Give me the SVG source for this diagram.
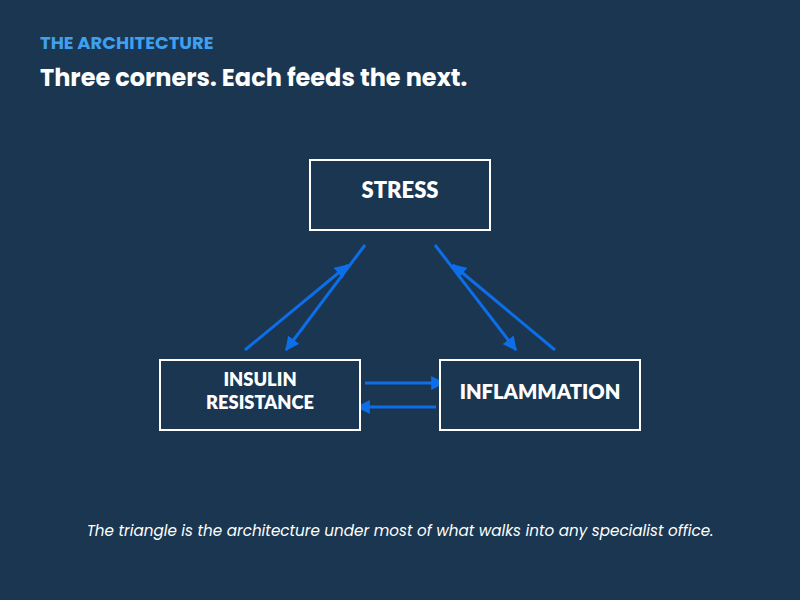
<svg xmlns="http://www.w3.org/2000/svg" width="800" height="600" viewBox="0 0 800 600">
<defs>
<style>
.box{fill:#1a3650;stroke:#ffffff;stroke-width:2}
.lbl{font-family:Lato,"Open Sans",sans-serif;font-weight:800;fill:#ffffff;text-anchor:middle}
.con{stroke:#0d6ee8;stroke-width:3;fill:none;marker-end:url(#ah)}
</style>
<marker id="ah" markerUnits="userSpaceOnUse" markerWidth="14" markerHeight="14" viewBox="0 0 12 12" refX="11" refY="6" orient="auto">
<path d="M0,0 L12,6 L0,12 z" fill="#0d6ee8"/>
</marker>
</defs>
<rect width="800" height="600" fill="#1a3650"/>
<text x="40" y="49" font-family="Poppins,'Open Sans',sans-serif" font-weight="700" font-size="18" fill="#3fa0f0">THE ARCHITECTURE</text>
<text x="40" y="86" font-family="Poppins,'Open Sans',sans-serif" font-weight="700" font-size="24" fill="#ffffff">Three corners. Each feeds the next.</text>
<g id="connectors">
<line class="con" x1="245" y1="350" x2="348" y2="265"/>
<line class="con" x1="365" y1="245" x2="286" y2="350"/>
<line class="con" x1="435" y1="245" x2="516" y2="350"/>
<line class="con" x1="555" y1="350" x2="453" y2="265"/>
<line class="con" x1="365" y1="383" x2="444" y2="383"/>
<line class="con" x1="436" y1="407" x2="357" y2="407"/>
</g>
<g id="stress">
<rect class="box" x="310" y="160" width="180" height="70"/>
<text class="lbl" x="400" y="198" font-size="22">STRESS</text>
</g>
<g id="insulin">
<rect class="box" x="160" y="360" width="200" height="70"/>
<text class="lbl" x="260" y="386" font-size="18.3">INSULIN</text>
<text class="lbl" x="260" y="409" font-size="18.3">RESISTANCE</text>
</g>
<g id="inflammation">
<rect class="box" x="440" y="360" width="200" height="70"/>
<text class="lbl" x="540" y="399" font-size="20.2">INFLAMMATION</text>
</g>
<text x="400" y="536" font-family="Poppins,'Open Sans',sans-serif" font-style="italic" font-size="15.2" fill="#ffffff" text-anchor="middle">The triangle is the architecture under most of what walks into any specialist office.</text>
</svg>
